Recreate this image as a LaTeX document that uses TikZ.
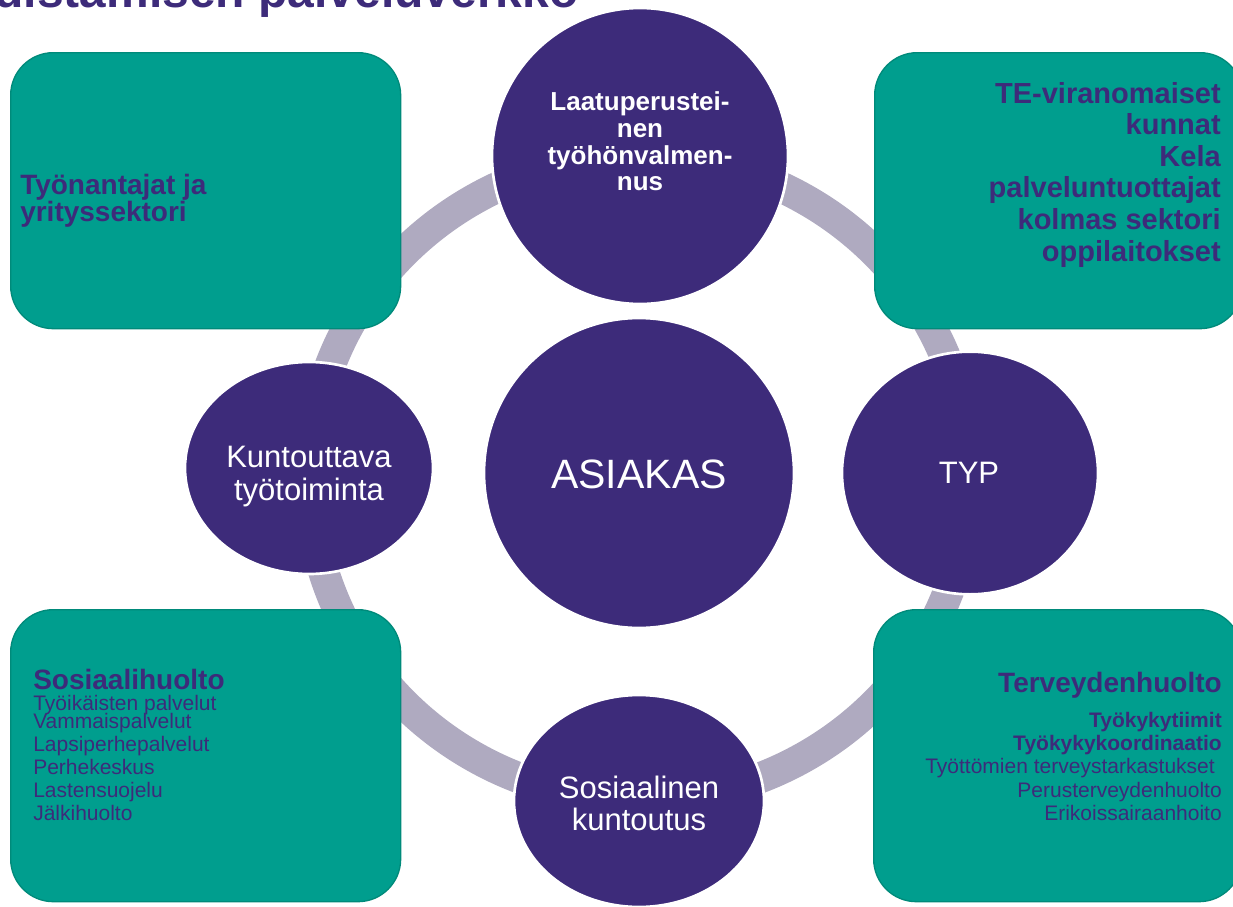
\documentclass[tikz,border=0pt]{standalone}
\usepackage{fontspec}
\setmainfont{Liberation Sans}
\usetikzlibrary{shapes.geometric}
\definecolor{purp}{RGB}{61,43,122}
\definecolor{teal0}{RGB}{0,158,142}
\definecolor{tealdark}{RGB}{0,138,122}
\definecolor{ringgray}{RGB}{175,170,192}
\tikzset{
  ringst/.style={draw=ringgray, line width=23.25pt},
  boxst/.style={rectangle, fill=teal0, draw=tealdark, line width=1pt, rounded corners=32pt, inner sep=0pt},
  circst/.style={ellipse, fill=purp, draw=white, line width=2pt, inner sep=0pt},
  wtxt/.style={text=white, inner sep=0pt, anchor=base},
  ptxt/.style={text=purp, inner sep=0pt},
  cfont/.style={font=\fontsize{23.25pt}{24pt}\selectfont},
  lfont/.style={font=\bfseries\fontsize{19.5pt}{20pt}\selectfont},
  hfont/.style={font=\bfseries\fontsize{21pt}{22pt}\selectfont},
  sfont/.style={font=\fontsize{15.75pt}{16pt}\selectfont},
  sbfont/.style={font=\bfseries\fontsize{15.75pt}{16pt}\selectfont}
}
\begin{document}
\begin{tikzpicture}[x=0.75pt,y=-0.75pt]
\useasboundingbox (0,0) rectangle (1233,907);
\clip (0,0) rectangle (1233,907);
% title (cut by the page edge)
\node[ptxt, anchor=base east, font=\bfseries\fontsize{36pt}{37pt}\selectfont] (title) at (579,7) {edistämisen palveluverkko};
% ring
\draw[ringst] (639.5,478) ellipse [x radius=247.5pt, y radius=241.5pt];
% boxes
\node[boxst, minimum width=292.5pt, minimum height=207pt, anchor=north west] (btl) at (10,52) {};
\node[boxst, minimum width=276pt, minimum height=207pt, anchor=north west] (btr) at (874,52) {};
\node[boxst, minimum width=292.5pt, minimum height=219pt, anchor=north west] (bbl) at (10,609) {};
\node[boxst, minimum width=276pt, minimum height=219pt, anchor=north west] (bbr) at (873,609) {};
% circles
\node[circst, minimum width=222pt, minimum height=222pt] (ctop) at (640,156) {};
\node[circst, minimum width=232.5pt, minimum height=232.5pt] (cmid) at (639,473) {};
\node[circst, minimum width=186pt, minimum height=159pt] (cleft) at (309,468) {};
\node[circst, minimum width=192pt, minimum height=182pt] (cright) at (970,473) {};
\node[circst, minimum width=187.5pt, minimum height=159pt] (cbot) at (639,801) {};
% circle texts
\node[wtxt, lfont] (lt1) at (640,110) {Laatuperustei-};
\node[wtxt, lfont] (lt2) at (640,137) {nen};
\node[wtxt, lfont] (lt3) at (640,164) {työhönvalmen-};
\node[wtxt, lfont] (lt4) at (640,190) {nus};
\node[wtxt, font=\fontsize{30.75pt}{31pt}\selectfont] (asi) at (639,488) {ASIAKAS};
\node[wtxt, cfont] (typ) at (969,483) {TYP};
\node[wtxt, cfont] (kt1) at (309,467) {Kuntouttava};
\node[wtxt, cfont] (kt2) at (309,500) {työtoiminta};
\node[wtxt, cfont] (sk1) at (639,798) {Sosiaalinen};
\node[wtxt, cfont] (sk2) at (639,830) {kuntoutus};
% top-left box text
\node[ptxt, hfont, anchor=base west] (ty1) at (20,194) {Työnantajat ja};
\node[ptxt, hfont, anchor=base west] (ty2) at (20,221) {yrityssektori};
% top-right box text
\foreach \t/\yy [count=\i] in {TE-viranomaiset/103, kunnat/134, Kela/166, palveluntuottajat/197, kolmas sektori/229, oppilaitokset/261}
  \node[ptxt, anchor=base east, font=\bfseries\fontsize{21.75pt}{22pt}\selectfont] (te\i) at (1221,\yy) {\t};
% bottom-left box text
\node[ptxt, hfont, anchor=base west] (so0) at (33,689) {Sosiaalihuolto};
\foreach \t/\yy [count=\i] in {Työikäisten palvelut/710, Vammaispalvelut/728, Lapsiperhepalvelut/751, Perhekeskus/774, Lastensuojelu/797, Jälkihuolto/820}
  \node[ptxt, sfont, anchor=base west] (so\i) at (33,\yy) {\t};
% bottom-right box text
\node[ptxt, hfont, anchor=base east] (te0) at (1222,692) {Terveydenhuolto};
\node[ptxt, sbfont, anchor=base east] (tk1) at (1222,727) {Työkykytiimit};
\node[ptxt, sbfont, anchor=base east] (tk2) at (1222,750) {Työkykykoordinaatio};
\node[ptxt, sfont, anchor=base east] (tk3) at (1215,773) {Työttömien terveystarkastukset};
\node[ptxt, sfont, anchor=base east] (tk4) at (1222,797) {Perusterveydenhuolto};
\node[ptxt, sfont, anchor=base east] (tk5) at (1222,820) {Erikoissairaanhoito};
\end{tikzpicture}
\end{document}
